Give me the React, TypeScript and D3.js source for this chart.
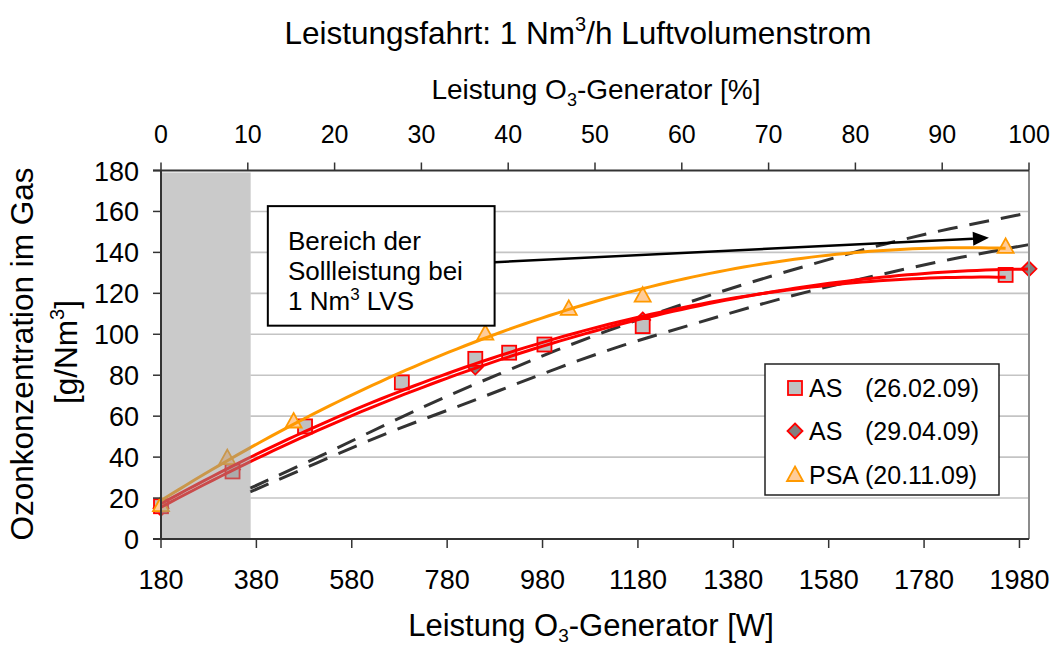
import React from "react";
import * as d3 from "d3";

// ---------- data ----------
const as1W = [180, 330, 482, 685, 839, 910, 984, 1190, 1951];
const as1V = [16, 33, 55, 76.5, 88, 91, 95, 104, 129];

const as2W = [180, 330, 839, 1190, 2000];
const as2V = [15, 34, 84, 107, 132];

const psaW = [180, 319, 458, 860, 1035, 1190, 1951];
const psaV = [16.5, 39.5, 57.4, 100.3, 112.4, 118.9, 142.7];

const dashUpperW = [367, 520, 660, 800, 884, 1010, 1150, 1290, 1409, 1549, 1689, 1829, 2000];
const dashUpperV = [24.8, 41, 57, 72, 80, 92.5, 104.7, 116, 125, 134.5, 143.8, 151.5, 159.3];
const dashLowerW = [367, 520, 660, 800, 884, 1010, 1150, 1290, 1409, 1549, 1689, 1829, 2000];
const dashLowerV = [23, 38.5, 52.5, 64.5, 72, 83.5, 95, 104.5, 112.9, 121.8, 129.2, 136.5, 143.8];

const bottomTicks = [180, 380, 580, 780, 980, 1180, 1380, 1580, 1780, 1980];
const topTicks = [0, 10, 20, 30, 40, 50, 60, 70, 80, 90, 100];
const yTicks = [0, 20, 40, 60, 80, 100, 120, 140, 160, 180];

const bandEndW = 368; // shaded range of the generator power
const legendLabels = [
  ["AS", "(26.02.09)"],
  ["AS", "(29.04.09)"],
  ["PSA", "(20.11.09)"],
];

// annotation (data coordinates)
const noteBox = { w0: 404, w1: 879.5, v0: 104.2, v1: 162.6 };
const noteArrow = { w0: 879.5, v0: 135.2, w1: 1916, v1: 147.1 };

// ---------- helpers ----------
const FONT = "'Liberation Sans', Arial, sans-serif";

function quadFit(xs: number[], ys: number[]) {
  const n = xs.length;
  const m = d3.mean(xs)!;
  const s = 1000;
  let S = [0, 0, 0, 0, 0];
  let T = [0, 0, 0];
  for (let i = 0; i < n; i++) {
    const t = (xs[i] - m) / s;
    let p = 1;
    for (let k = 0; k < 5; k++) {
      S[k] += p;
      if (k < 3) T[k] += p * ys[i];
      p *= t;
    }
  }
  const A = [
    [S[0], S[1], S[2], T[0]],
    [S[1], S[2], S[3], T[1]],
    [S[2], S[3], S[4], T[2]],
  ];
  for (let c = 0; c < 3; c++) {
    for (let r = c + 1; r < 3; r++) {
      const f = A[r][c] / A[c][c];
      for (let k = c; k < 4; k++) A[r][k] -= f * A[c][k];
    }
  }
  const coef = [0, 0, 0];
  for (let r = 2; r >= 0; r--) {
    let v = A[r][3];
    for (let k = r + 1; k < 3; k++) v -= A[r][k] * coef[k];
    coef[r] = v / A[r][r];
  }
  return (x: number) => {
    const t = (x - m) / s;
    return coef[0] + coef[1] * t + coef[2] * t * t;
  };
}

const x = d3.scaleLinear().domain([180, 2000]).range([161, 1029]);
const xTop = d3.scaleLinear().domain([0, 100]).range([161, 1029]);
const y = d3.scaleLinear().domain([0, 180]).range([539, 170.5]);

function trendPath(ws: number[], vs: number[]) {
  const f = quadFit(ws, vs);
  const x0 = d3.min(ws)!;
  const x1 = d3.max(ws)!;
  const pts = d3.range(0, 101).map((i) => x0 + ((x1 - x0) * i) / 100);
  return d3
    .line<number>()
    .x((w) => x(w))
    .y((w) => y(f(w)))(pts)!;
}

function dashPath(ws: number[], vs: number[]) {
  return d3
    .line<number>()
    .x((_, i) => x(ws[i]))
    .y((_, i) => y(vs[i]))
    .curve(d3.curveBasis)(ws)!;
}

const Square = ({ cx, cy }: { cx: number; cy: number }) => (
  <rect x={cx - 7} y={cy - 7} width={14} height={14} fill="#c0c0c0" stroke="#ff0000" strokeWidth={1.8} />
);
const Diamond = ({ cx, cy }: { cx: number; cy: number }) => (
  <path d={`M${cx},${cy - 7.5}L${cx + 7.5},${cy}L${cx},${cy + 7.5}L${cx - 7.5},${cy}Z`} fill="#808080" stroke="#ff0000" strokeWidth={1.8} />
);
const Triangle = ({ cx, cy }: { cx: number; cy: number }) => (
  <path d={`M${cx},${cy - 8.5}L${cx + 8},${cy + 6}L${cx - 8},${cy + 6}Z`} fill="#ffcc99" stroke="#ff9900" strokeWidth={1.8} />
);

export default function App() {
  const left = x.range()[0];
  const right = x.range()[1];
  const top = y(180);
  const bottom = y(0);
  const bandR = x(bandEndW);

  const bx0 = x(noteBox.w0), bx1 = x(noteBox.w1), by0 = y(noteBox.v1), by1 = y(noteBox.v0);
  const ax0 = x(noteArrow.w0), ay0 = y(noteArrow.v0), ax1 = x(noteArrow.w1), ay1 = y(noteArrow.v1);
  const ang = Math.atan2(ay1 - ay0, ax1 - ax0);
  const hl = 16, hw = 7;
  const hbx = ax1 - hl * Math.cos(ang), hby = ay1 - hl * Math.sin(ang);
  const head = `M${ax1},${ay1}L${hbx + hw * Math.sin(ang)},${hby - hw * Math.cos(ang)}L${hbx - hw * Math.sin(ang)},${hby + hw * Math.cos(ang)}Z`;

  const legX = 765, legY = 364, legW = 234, legH = 131;
  const rowY = [388, 431, 475];

  return (
    <svg width={1054} height={646} style={{ position: "absolute", left: 0, top: 0, background: "#fff" }} fontFamily={FONT}>
      {/* title */}
      <text x={578} y={44} fontSize={31.5} textAnchor="middle" fill="#000">
        Leistungsfahrt: 1 Nm<tspan dy={-13} fontSize={20}>3</tspan>
        <tspan dy={13}>/h Luftvolumenstrom</tspan>
      </text>

      {/* grid */}
      {yTicks.filter((t) => t > 0 && t < 180).map((t) => (
        <line key={t} x1={left} x2={right} y1={y(t)} y2={y(t)} stroke="#c4c4c4" strokeWidth={1.6} />
      ))}
      {/* hide grid within band */}
      <rect x={left} y={top + 2} width={bandR - left} height={bottom - top - 2} fill="#fff" />

      {/* dashed reference lines */}
      <path d={dashPath(dashUpperW, dashUpperV)} fill="none" stroke="#333" strokeWidth={3} strokeDasharray="20 12" />
      <path d={dashPath(dashLowerW, dashLowerV)} fill="none" stroke="#333" strokeWidth={3} strokeDasharray="20 12" />

      {/* markers */}
      {as2W.map((w, i) => <Diamond key={"d" + i} cx={x(w)} cy={y(as2V[i])} />)}
      {as1W.map((w, i) => <Square key={"s" + i} cx={x(w)} cy={y(as1V[i])} />)}
      {psaW.map((w, i) => <Triangle key={"t" + i} cx={x(w)} cy={y(psaV[i])} />)}

      {/* trend lines */}
      <path d={trendPath(as1W, as1V)} fill="none" stroke="#ff0000" strokeWidth={3} />
      <path d={trendPath(as2W, as2V)} fill="none" stroke="#ff0000" strokeWidth={3} />
      <path d={trendPath(psaW, psaV)} fill="none" stroke="#ff9900" strokeWidth={3} />

      {/* shaded band */}
      <rect x={left} y={top + 2} width={bandR - left} height={bottom - top - 2} fill="#969696" fillOpacity={0.5} />

      {/* plot border right */}
      <line x1={right} x2={right} y1={top} y2={bottom} stroke="#8c8c8c" strokeWidth={2} />

      {/* left axis */}
      <line x1={left} x2={left} y1={top} y2={bottom} stroke="#333" strokeWidth={2} />
      {yTicks.map((t) => (
        <g key={t}>
          <line x1={left - 8} x2={left} y1={y(t)} y2={y(t)} stroke="#333" strokeWidth={1.5} />
          <text x={139} y={y(t) + 10} fontSize={27} textAnchor="end">{t}</text>
        </g>
      ))}

      {/* bottom axis */}
      <line x1={left - 8} x2={right} y1={bottom} y2={bottom} stroke="#333" strokeWidth={2} />
      {bottomTicks.map((t) => (
        <g key={t}>
          <line x1={x(t)} x2={x(t)} y1={bottom} y2={bottom + 9} stroke="#333" strokeWidth={1.5} />
          <text x={x(t)} y={589} fontSize={27} textAnchor="middle">{t}</text>
        </g>
      ))}

      {/* top axis */}
      <line x1={left - 8} x2={right} y1={top} y2={top} stroke="#333" strokeWidth={2} />
      {topTicks.map((t) => (
        <g key={t}>
          <line x1={xTop(t)} x2={xTop(t)} y1={top - 8} y2={top} stroke="#333" strokeWidth={1.5} />
          <text x={xTop(t)} y={143} fontSize={25} textAnchor="middle">{t}</text>
        </g>
      ))}

      {/* axis titles */}
      <text x={596} y={99} fontSize={28} textAnchor="middle">
        Leistung O<tspan dy={7} fontSize={18}>3</tspan>
        <tspan dy={-7}>-Generator [%]</tspan>
      </text>
      <text x={591} y={636} fontSize={31} textAnchor="middle">
        Leistung O<tspan dy={6} fontSize={19}>3</tspan>
        <tspan dy={-6}>-Generator [W]</tspan>
      </text>
      <g transform="translate(33,354) rotate(-90)">
        <text x={0} y={0} fontSize={31.5} textAnchor="middle">Ozonkonzentration im Gas</text>
      </g>
      <g transform="translate(77,352) rotate(-90)">
        <text x={0} y={0} fontSize={31.5} textAnchor="middle">
          [g/Nm<tspan dy={-13} fontSize={20}>3</tspan>
          <tspan dy={13}>]</tspan>
        </text>
      </g>

      {/* annotation */}
      <rect x={bx0} y={by0} width={bx1 - bx0} height={by1 - by0} fill="#fff" stroke="#000" strokeWidth={2} />
      <text x={288} y={250} fontSize={26}>Bereich der</text>
      <text x={288} y={280} fontSize={26}>Sollleistung bei</text>
      <text x={288} y={310} fontSize={26}>
        1 Nm<tspan dy={-10} fontSize={17}>3</tspan>
        <tspan dy={10}> LVS</tspan>
      </text>
      <line x1={ax0} y1={ay0} x2={hbx} y2={hby} stroke="#000" strokeWidth={2.5} />
      <path d={head} fill="#000" />

      {/* legend */}
      <rect x={legX} y={legY} width={legW} height={legH} fill="#fff" stroke="#222" strokeWidth={1.5} />
      <Square cx={795} cy={rowY[0]} />
      <Diamond cx={795} cy={rowY[1]} />
      <Triangle cx={795} cy={rowY[2]} />
      {legendLabels.map((l, i) => (
        <g key={i}>
          <text x={809} y={rowY[i] + 9} fontSize={25}>{l[0]}</text>
          <text x={865} y={rowY[i] + 9} fontSize={25}>{l[1]}</text>
        </g>
      ))}
    </svg>
  );
}
